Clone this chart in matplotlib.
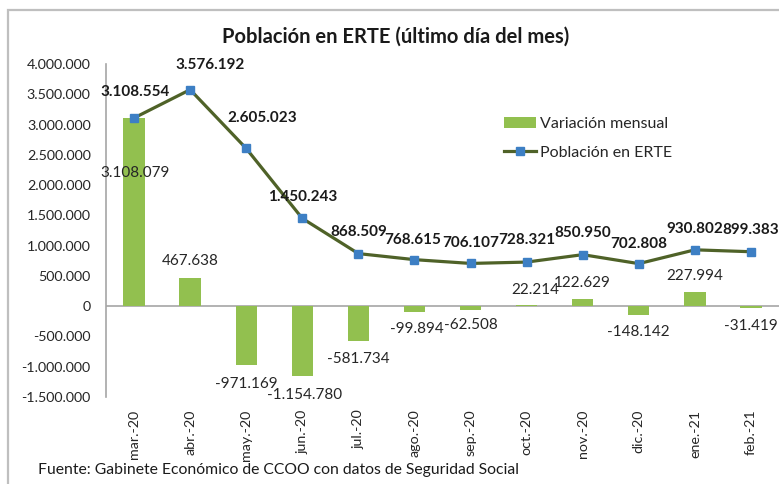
import matplotlib.pyplot as plt
from matplotlib.patches import Rectangle
from matplotlib.ticker import FuncFormatter

plt.rcParams['font.family'] = ['Lato', 'DejaVu Sans']

months = ['mar.-20', 'abr.-20', 'may.-20', 'jun.-20', 'jul.-20', 'ago.-20',
          'sep.-20', 'oct.-20', 'nov.-20', 'dic.-20', 'ene.-21', 'feb.-21']
variacion = [3108079, 467638, -971169, -1154780, -581734, -99894,
             -62508, 22214, 122629, -148142, 227994, -31419]
poblacion = [3108554, 3576192, 2605023, 1450243, 868509, 768615,
             706107, 728321, 850950, 702808, 930802, 899383]

# label offsets in pixels (hand placed like in the original sheet)
pob_off = [(1, 26), (20, 25), (16, 30), (0, 21), (0, 22), (-2, 20),
           (0, 20), (0, 22), (0, 22), (0, 20), (0, 21), (0, 22)]
var_off = [(1, -55), (0, 17), (0, -19), (2, -19), (0, -18), (2, -17),
           (0, -15), (9, 15), (0, 16), (0, -17), (0, 16), (0, -18)]


def miles(v):
    s = f'{abs(int(round(v))):,}'.replace(',', '.')
    return ('-' if v < 0 else '') + s


fig = plt.figure(figsize=(7.79, 4.84), dpi=100)
ax = fig.add_axes([106 / 779, 1 - 397 / 484, 1 - 106 / 779, 333 / 484])

x = list(range(len(months)))
barras = ax.bar(x, variacion, width=0.38, color='#92C04F', label='Variación mensual', zorder=2)
linea, = ax.plot(x, poblacion, color='#4F6228', lw=2.3, marker='s', ms=6,
                 mfc='#3D7FC4', mec='#3D7FC4', label='Población en ERTE', zorder=3)

ax.axhline(0, color='#A6A6A6', lw=1.2, zorder=1)
ax.set_xlim(-0.5, len(months) - 0.5)
ax.set_ylim(-1500000, 4000000)
ax.set_yticks(range(-1500000, 4000001, 500000))
ax.yaxis.set_major_formatter(FuncFormatter(lambda v, p: miles(v)))
ax.set_xticks(x)
ax.set_xticklabels(months, rotation=90)
ax.tick_params(axis='y', length=0, pad=11, labelsize=10.3, labelcolor='#262626')
ax.tick_params(axis='x', length=0, pad=9, labelsize=10.3, labelcolor='#262626')
for s in ['top', 'right', 'bottom']:
    ax.spines[s].set_visible(False)
ax.spines['left'].set_color('#A6A6A6')
ax.spines['left'].set_linewidth(1.2)

for i, v in enumerate(poblacion):
    ax.annotate(miles(v), (i, v), xytext=pob_off[i], textcoords='offset pixels',
                ha='center', va='center', fontsize=11, fontweight='bold', color='#1a1a1a')
for i, v in enumerate(variacion):
    ax.annotate(miles(v), (i, v), xytext=var_off[i], textcoords='offset pixels',
                ha='center', va='center', fontsize=11, color='#262626')

fig.text(396 / 779, 1 - 37 / 484, 'Población en ERTE (último día del mes)',
         ha='center', va='center', fontsize=14.5, fontweight='bold', color='#1a1a1a')
fig.text(38 / 779, 1 - 470 / 484,
         'Fuente: Gabinete Económico de CCOO con datos de Seguridad Social',
         ha='left', va='center', fontsize=11.3, color='#1a1a1a')

fig.legend([barras, linea], ['Variación mensual', 'Población en ERTE'],
           loc='center left', bbox_to_anchor=(496 / 779, 1 - 138.5 / 484),
           frameon=False, borderpad=0, fontsize=11.5, handlelength=2.0,
           handletextpad=0.25, labelspacing=0.9, labelcolor='#262626')

fig.patches.append(Rectangle((8 / 779, -0.05), 1.2, 1 - 10 / 484 + 0.05,
                             transform=fig.transFigure, fill=False,
                             edgecolor='#BFBFBF', lw=1.6))

fig.savefig('out.png', dpi=100)
